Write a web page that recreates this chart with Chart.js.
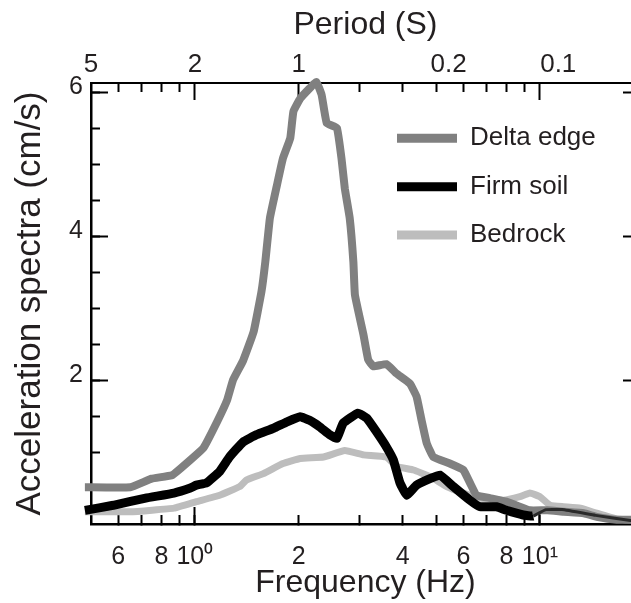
<!DOCTYPE html>
<html>
<head>
<meta charset="utf-8">
<script src="https://cdn.jsdelivr.net/npm/chart.js@4.4.0/dist/chart.umd.min.js"></script>
<style>
  html, body { margin: 0; padding: 0; background: #fff; overflow: hidden; }
  canvas { display: block; }
</style>
</head>
<body>
<canvas id="spectraChart" width="645" height="603"></canvas>
<script>
/*Data*/
var seriesNames = ['Delta edge', 'Firm soil', 'Bedrock'];

var deltaFreq = [0.48, 0.65, 0.75, 0.86, 0.97, 1.06, 1.16, 1.24, 1.29, 1.38, 1.48, 1.56, 1.6, 1.65, 1.73, 1.8, 1.89, 1.93, 2.02, 2.15, 2.25, 2.33, 2.41, 2.58, 2.66, 2.72, 2.81, 2.88, 2.91, 3.08, 3.18, 3.29, 3.59, 3.84, 4.2, 4.39, 4.54, 4.7, 4.91, 5.48, 6.0, 6.27, 6.55, 7.16, 8.0, 8.75, 9.35, 10.5, 11.7, 13.4, 14.6, 16.7, 19.5];
var deltaAmp = [0.51, 0.51, 0.63, 0.68, 0.89, 1.06, 1.42, 1.72, 2.0, 2.27, 2.67, 3.23, 3.64, 4.25, 4.71, 5.08, 5.36, 5.73, 5.91, 6.05, 6.14, 5.96, 5.57, 5.5, 5.08, 4.66, 4.25, 3.64, 3.18, 2.63, 2.28, 2.19, 2.22, 2.09, 1.95, 1.77, 1.44, 1.12, 0.93, 0.84, 0.75, 0.57, 0.4, 0.36, 0.31, 0.24, 0.19, 0.19, 0.17, 0.15, 0.1, 0.06, 0.06];

var firmFreq = [0.48, 0.58, 0.72, 0.87, 0.97, 1.01, 1.08, 1.18, 1.26, 1.38, 1.51, 1.69, 1.85, 2.02, 2.15, 2.3, 2.46, 2.58, 2.69, 2.97, 3.15, 3.36, 3.59, 3.76, 3.93, 4.11, 4.39, 4.8, 5.13, 5.61, 6.27, 6.7, 7.49, 8.0, 8.94, 9.56, 10.4, 11.6, 14.5, 18.3, 19.5];
var firmAmp = [0.19, 0.26, 0.36, 0.43, 0.5, 0.54, 0.57, 0.73, 0.93, 1.14, 1.24, 1.33, 1.42, 1.49, 1.44, 1.35, 1.24, 1.19, 1.4, 1.54, 1.47, 1.28, 1.07, 0.89, 0.57, 0.4, 0.54, 0.63, 0.68, 0.52, 0.33, 0.24, 0.24, 0.19, 0.125, 0.11, 0.2, 0.2, 0.12, 0.05, 0.04];

var rockFreq = [0.48, 0.65, 0.87, 1.01, 1.18, 1.35, 1.41, 1.58, 1.8, 2.02, 2.36, 2.72, 3.08, 3.59, 3.84, 4.3, 4.8, 5.37, 6.0, 6.7, 7.83, 8.75, 9.35, 10.0, 10.7, 11.7, 13.1, 14.6, 16.7, 19.5];
var rockAmp = [0.17, 0.17, 0.22, 0.31, 0.4, 0.52, 0.61, 0.7, 0.84, 0.91, 0.93, 1.02, 0.96, 0.93, 0.8, 0.75, 0.66, 0.52, 0.43, 0.36, 0.33, 0.38, 0.43, 0.38, 0.26, 0.24, 0.22, 0.15, 0.07, 0.05];

/*Axis ticks*/
var freqTicks = [0.6, 0.7, 0.8, 0.9, 1, 2, 3, 4, 5, 6, 7, 8, 9, 10];
var freqLabels = ['6', '', '8', '', '10⁰', '2', '', '4', '', '6', '', '8', '', '10¹'];
var freqMajorTicks = [1, 10];
var periodMinorTicks = [0.6, 0.7, 0.8, 0.9, 3, 4, 5, 6, 7, 8, 9];
var periodMajorTicks = [1, 2, 10];
var periodLabelPos = [0.5, 1, 2, 5.44, 11.3];
var periodLabels = ['5', '2', '1', '0.2', '0.1'];
var ampTicks = [0.5, 1, 1.5, 2, 2.5, 3, 3.5, 4, 4.5, 5, 5.5, 6];
var ampLabels = ['', '', '', '2', '', '', '', '4', '', '', '', '6'];
var ampMajorTicks = [2, 4, 6];

var textColor = '#231f20';
Chart.defaults.font.family = '"Liberation Sans", Arial, Helvetica, sans-serif';
Chart.defaults.color = textColor;

function pts(fs, vs) {
  return fs.map(function (f, i) { return { x: f, y: vs[i] }; });
}
function setTicks(values) {
  return function (scale) {
    scale.ticks = values.map(function (v) { return { value: v }; });
  };
}
// tick marks pointing into the plot, no grid
function inwardGrid(len) {
  return { drawOnChartArea: false, tickLength: -len, tickWidth: 2, tickColor: '#000' };
}

var fMin = 0.5, fMax = 19.5;
var frame = { color: '#000', width: 2.5 };
var lineClip = { left: 8, top: 6, right: 0, bottom: 0 };

// put the legend box inside the plot, upper right
var legendPlacer = {
  id: 'legendPlacer',
  afterLayout: function (chart) {
    var lg = chart.legend;
    lg.left = 374.6;
    lg.top = 102.9;
    lg.bottom = chart.chartArea.bottom;
  }
};

var ctx = document.getElementById('spectraChart');

var spectraChart = new Chart(ctx, {
  type: 'line',
  data: {
    datasets: [{
      label: seriesNames[0],
      data: pts(deltaFreq, deltaAmp),
      borderColor: '#808080',
      backgroundColor: '#808080',
      borderWidth: 8,
      order: 1,
      clip: lineClip
    }, {
      label: seriesNames[1],
      data: pts(firmFreq, firmAmp),
      borderColor: '#000',
      backgroundColor: '#000',
      borderWidth: 9,
      order: 0,
      clip: lineClip,
      segment: {
        borderWidth: function (c) { return c.p0.parsed.x >= 9.5 ? 3 : undefined; },
        borderColor: function (c) { return c.p0.parsed.x >= 9.5 ? '#2a2a2a' : undefined; }
      }
    }, {
      label: seriesNames[2],
      data: pts(rockFreq, rockAmp),
      borderColor: '#bdbdbd',
      backgroundColor: '#bdbdbd',
      borderWidth: 7,
      order: 2,
      clip: lineClip
    }]
  },
  options: {
    responsive: false,
    animation: false,
    devicePixelRatio: 1,
    layout: { padding: { top: 0, left: 0, bottom: 0, right: 5 } },
    elements: {
      point: { radius: 0 },
      line: { tension: 0.1, borderJoinStyle: 'round', borderCapStyle: 'butt' }
    },
    plugins: {
      tooltip: { enabled: false },
      legend: {
        display: true,
        position: 'chartArea',
        align: 'start',
        labels: {
          boxWidth: 60,
          boxHeight: 9,
          padding: 22.4,
          color: textColor,
          font: { size: 26 },
          sort: function (a, b) { return a.datasetIndex - b.datasetIndex; },
          generateLabels: function (chart) {
            var items = Chart.defaults.plugins.legend.labels.generateLabels(chart);
            items.forEach(function (it) { it.fillStyle = it.strokeStyle; it.lineWidth = 0; });
            return items;
          }
        }
      }
    },
    scales: {
      x: {
        type: 'logarithmic', axis: 'x', position: 'bottom', weight: 1,
        min: fMin, max: fMax,
        afterBuildTicks: setTicks(freqTicks),
        afterFit: function (s) { s.height = 79; },
        grid: inwardGrid(9),
        border: frame,
        ticks: {
          autoSkip: false, maxRotation: 0, padding: 27,
          font: { size: 25 },
          callback: function (v, i) { return freqLabels[i]; }
        },
        title: { display: true, text: 'Frequency (Hz)', font: { size: 32 }, padding: { top: 0, bottom: 1 } }
      },
      xMajor: {
        type: 'logarithmic', axis: 'x', position: 'bottom', weight: 0,
        min: fMin, max: fMax,
        afterBuildTicks: setTicks(freqMajorTicks),
        afterFit: function (s) { s.height = 0; },
        grid: inwardGrid(17),
        border: { display: false },
        ticks: { display: false }
      },
      xTop: {
        type: 'logarithmic', axis: 'x', position: 'top', weight: 1,
        min: fMin, max: fMax,
        afterBuildTicks: setTicks(periodMinorTicks),
        afterFit: function (s) { s.height = 0; },
        grid: inwardGrid(9),
        border: { color: '#000', width: 2 },
        ticks: { display: false }
      },
      xTopMajor: {
        type: 'logarithmic', axis: 'x', position: 'top', weight: 0,
        min: fMin, max: fMax,
        afterBuildTicks: setTicks(periodMajorTicks),
        afterFit: function (s) { s.height = 0; },
        grid: inwardGrid(17),
        border: { display: false },
        ticks: { display: false }
      },
      xPeriod: {
        type: 'logarithmic', axis: 'x', position: 'top', weight: 2,
        min: fMin, max: fMax,
        afterBuildTicks: setTicks(periodLabelPos),
        afterFit: function (s) { s.height = 83; },
        grid: { display: false, drawTicks: false },
        border: { display: false },
        ticks: {
          autoSkip: false, maxRotation: 0, padding: 3,
          font: { size: 26 },
          callback: function (v, i) { return periodLabels[i]; }
        },
        title: { display: true, text: 'Period (S)', font: { size: 32 }, padding: { top: 6, bottom: 0 } }
      },
      y: {
        type: 'linear', axis: 'y', position: 'left', weight: 1,
        min: 0, max: 6.125,
        afterBuildTicks: setTicks(ampTicks),
        afterFit: function (s) { s.width = 91; },
        grid: inwardGrid(9),
        border: frame,
        ticks: {
          autoSkip: false, padding: 17, labelOffset: -5,
          font: { size: 25 },
          callback: function (v, i) { return ampLabels[i]; }
        },
        title: { display: true, text: 'Acceleration spectra (cm/s)', font: { size: 35 }, padding: { top: 9, bottom: 0 } }
      },
      yMajor: {
        type: 'linear', axis: 'y', position: 'left', weight: 0,
        min: 0, max: 6.125,
        afterBuildTicks: setTicks(ampMajorTicks),
        afterFit: function (s) { s.width = 0; },
        grid: inwardGrid(17),
        border: { display: false },
        ticks: { display: false }
      },
      yRight: {
        type: 'linear', axis: 'y', position: 'right', weight: 0,
        min: 0, max: 6.125,
        afterBuildTicks: setTicks(ampMajorTicks),
        afterFit: function (s) { s.width = 0; },
        grid: inwardGrid(17),
        border: frame,
        ticks: { display: false }
      }
    }
  },
  plugins: [legendPlacer]
});
</script>
</body>
</html>
